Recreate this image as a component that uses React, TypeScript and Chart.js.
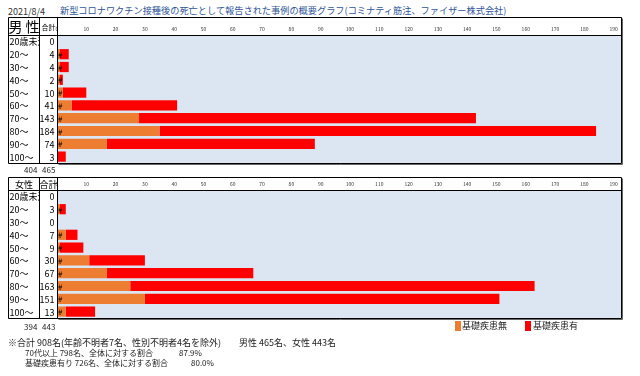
import React, { useEffect, useRef } from "react";
import { Chart, registerables } from "chart.js";
Chart.register(...registerables);

const ageGroups = ["20歳未満", "20～", "30～", "40～", "50～", "60～", "70～", "80～", "90～", "100～"];

const maleTotals = [0, 4, 4, 2, 10, 41, 143, 184, 74, 3];
const maleNone = [0, 1, 1, 1, 2, 5, 28, 35, 17, 0];
const maleWith = [0, 3, 3, 1, 8, 36, 115, 149, 71, 3];

const femaleTotals = [0, 3, 0, 7, 9, 30, 67, 163, 151, 13];
const femaleNone = [0, 1, 0, 3, 1, 11, 17, 25, 30, 3];
const femaleWith = [0, 2, 0, 4, 8, 19, 50, 138, 121, 10];

const maleSums = ["404", "465"];
const femaleSums = ["394", "443"];

const axisMax = 192.5;
const tickValues = [0, 10, 20, 30, 40, 50, 60, 70, 80, 90, 100, 110, 120, 130, 140, 150, 160, 170, 180, 190];

const seriesNames = ["基礎疾患無", "基礎疾患有"];

const FONT = '"Noto Sans CJK JP", "Noto Sans", sans-serif';
const ORANGE = "#ED7D31";
const RED = "#FF0000";
const PLOT_BG = "#DCE6F2";

type PanelProps = {
  top: number;
  height: number;
  header: number;
  label: string;
  labelSize: number;
  sumSize: number;
  none: number[];
  withD: number[];
  totals: number[];
};

function Panel(p: PanelProps) {
  const ref = useRef<HTMLCanvasElement>(null);
  useEffect(() => {
    const canvas = ref.current!;
    const tablePlugin = {
      id: "table",
      beforeDatasetsDraw(chart: any) {
        const { ctx, chartArea: a } = chart;
        ctx.save();
        ctx.fillStyle = PLOT_BG;
        ctx.fillRect(a.left, a.top, a.right - a.left, a.bottom - a.top);
        ctx.restore();
      },
      afterDraw(chart: any) {
        const { ctx, chartArea: a, scales } = chart;
        const ys = scales.y;
        ctx.save();
        ctx.fillStyle = "#000";
        ctx.font = `8px ${FONT}`;
        ctx.textBaseline = "middle";
        ctx.textAlign = "left";
        p.none.forEach((v, i) => {
          if (v > 0) ctx.fillText("#", a.left + 1, ys.getPixelForValue(i) + 0.5);
        });
        ctx.strokeStyle = "#000";
        ctx.lineWidth = 1;
        const L = 8.5;
        const C1 = 39.5;
        const C2 = Math.round(a.left) + 0.5;
        const R = Math.round(a.right) + 0.5;
        const T = 0.5;
        const H = Math.round(a.top) + 0.5;
        const B = Math.round(a.bottom) + 0.5;
        ctx.beginPath();
        ctx.moveTo(L, T); ctx.lineTo(R, T);
        ctx.moveTo(L, H); ctx.lineTo(R, H);
        ctx.moveTo(L, B); ctx.lineTo(R, B);
        ctx.moveTo(L, T); ctx.lineTo(L, B);
        ctx.moveTo(C1, T); ctx.lineTo(C1, B);
        ctx.moveTo(C2, T); ctx.lineTo(C2, B);
        ctx.moveTo(R, T); ctx.lineTo(R, B);
        ctx.stroke();
        ctx.strokeStyle = "#666";
        ctx.beginPath();
        ctx.moveTo(R + 1, T + 1); ctx.lineTo(R + 1, B + 1);
        ctx.moveTo(C2 + 1, B + 1); ctx.lineTo(R + 1, B + 1);
        ctx.stroke();
        ctx.fillStyle = "#000";
        ctx.textAlign = "center";
        ctx.font = `${p.labelSize}px ${FONT}`;
        ctx.fillText(p.label, (L + C1) / 2, (T + H) / 2 + 0.5);
        ctx.font = `${p.sumSize}px ${FONT}`;
        ctx.fillText("合計", (C1 + C2) / 2, (T + H) / 2 + 0.5);
        ctx.font = `9px ${FONT}`;
        ageGroups.forEach((g, i) => {
          const yy = ys.getPixelForValue(i) + 0.5;
          ctx.save();
          ctx.beginPath();
          ctx.rect(L + 0.5, H, C1 - L - 1, B - H);
          ctx.clip();
          ctx.textAlign = "left";
          ctx.fillText(g, L + 1, yy);
          ctx.restore();
          ctx.textAlign = "right";
          ctx.fillText(String(p.totals[i]), C2 - 3, yy);
        });
        ctx.restore();
      },
    };
    const chart = new Chart(canvas, {
      type: "bar",
      data: {
        labels: ageGroups,
        datasets: [
          { label: seriesNames[0], data: p.none, backgroundColor: ORANGE, borderWidth: 0 },
          { label: seriesNames[1], data: p.withD, backgroundColor: RED, borderWidth: 0 },
        ],
      },
      options: {
        indexAxis: "y",
        responsive: false,
        animation: false,
        devicePixelRatio: 1,
        layout: { padding: { left: 57, right: 19, top: 0, bottom: 2 } },
        datasets: { bar: { barPercentage: 0.8, categoryPercentage: 1 } },
        plugins: { legend: { display: false }, tooltip: { enabled: false } },
        scales: {
          x: {
            type: "linear",
            position: "top",
            min: 0,
            max: axisMax,
            stacked: true,
            grid: { display: false, drawTicks: false },
            border: { display: false },
            ticks: { font: { size: 5, family: FONT }, color: "#333", padding: 3, maxRotation: 0, autoSkip: false },
            afterBuildTicks: (scale: any) => {
              scale.ticks = tickValues.map((v) => ({ value: v }));
            },
            afterFit: (scale: any) => { scale.height = p.header; },
          },
          y: { type: "category", stacked: true, display: false },
        },
      } as any,
      plugins: [tablePlugin],
    });
    return () => chart.destroy();
  }, []);
  return (
    <canvas
      ref={ref}
      width={640}
      height={p.height}
      style={{ position: "absolute", left: 0, top: p.top, width: 640, height: p.height }}
    />
  );
}

const txt = (x: number, y: number, size = 9, color = "#222"): React.CSSProperties => ({
  position: "absolute",
  left: x,
  top: y,
  fontSize: size,
  color,
  fontFamily: FONT,
  whiteSpace: "pre",
  lineHeight: 1,
});

export default function App() {
  return (
    <div style={{ position: "fixed", left: 0, top: 0, width: 640, height: 376, background: "#fff", overflow: "hidden" }}>
      <div style={txt(8, 7, 9, "#333")}>2021/8/4</div>
      <div style={txt(60, 6, 9.2, "#2F5597")}>
        新型コロナワクチン接種後の死亡として報告された事例の概要グラフ(コミナティ筋注、ファイザー株式会社)
      </div>
      <Panel top={17} height={148} header={18} label="男 性" labelSize={14} sumSize={7} none={maleNone} withD={maleWith} totals={maleTotals} />
      <div style={txt(24, 166, 8)}>{maleSums[0]}</div>
      <div style={txt(42, 166, 8)}>{maleSums[1]}</div>
      <Panel top={177} height={143} header={13} label="女性" labelSize={9} sumSize={9} none={femaleNone} withD={femaleWith} totals={femaleTotals} />
      <div style={txt(24, 323, 8)}>{femaleSums[0]}</div>
      <div style={txt(42, 323, 8)}>{femaleSums[1]}</div>
      <div style={{ position: "absolute", left: 455, top: 321, width: 6, height: 10, background: ORANGE }} />
      <div style={txt(462, 321, 9)}>{seriesNames[0]}</div>
      <div style={{ position: "absolute", left: 525, top: 321, width: 6, height: 10, background: RED }} />
      <div style={txt(533, 321, 9)}>{seriesNames[1]}</div>
      <div style={txt(8, 338, 9)}>※合計 908名(年齢不明者7名、性別不明者4名を除外)</div>
      <div style={txt(239, 338, 9)}>男性 465名、女性 443名</div>
      <div style={txt(25, 349, 8)}>70代以上 798名、全体に対する割合</div>
      <div style={txt(179, 349, 8)}>87.9%</div>
      <div style={txt(25, 359, 8)}>基礎疾患有り 726名、全体に対する割合</div>
      <div style={txt(191, 359, 8)}>80.0%</div>
    </div>
  );
}
